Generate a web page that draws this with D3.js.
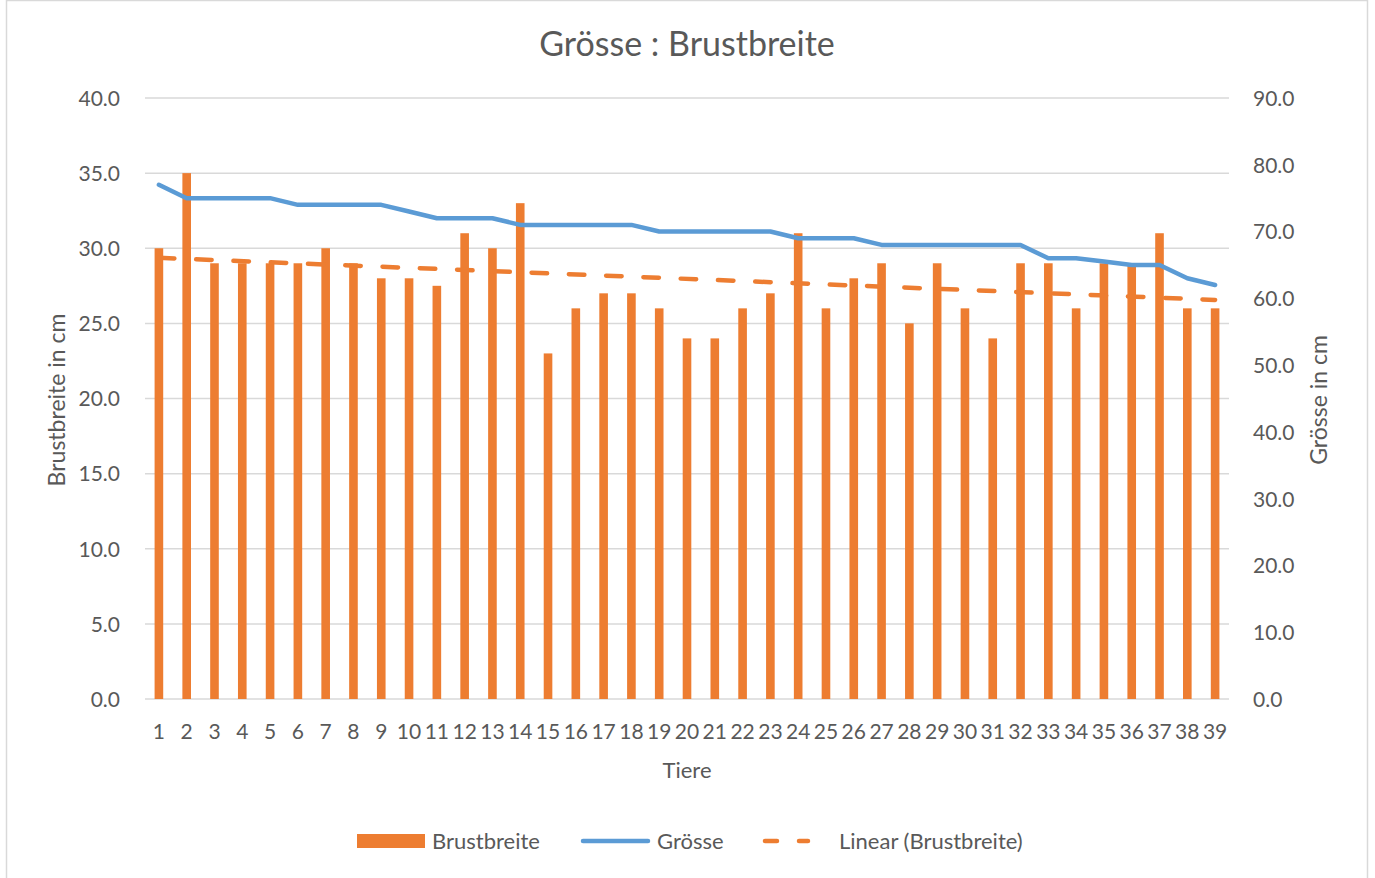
<!DOCTYPE html>
<html>
<head>
<meta charset="utf-8">
<script src="https://cdn.jsdelivr.net/npm/d3@7"></script>
<style>
  body { margin: 0; background: #fff; }
  text { font-family: Lato, "Open Sans", sans-serif; fill: #595959; }
</style>
</head>
<body>
<svg id="chart" width="1375" height="878"></svg>
<script>
var tiere = d3.range(1, 40).map(String);

var brustbreite = [
	30, 35, 29, 29, 29, 29, 30, 29, 28, 28,
	27.5, 31, 30, 33, 23, 26, 27, 27, 26, 24,
	24, 26, 27, 31, 26, 28, 29, 25, 29, 26,
	24, 29, 29, 26, 29, 29, 31, 26, 26
];

var groesse = [
	77, 75, 75, 75, 75, 74, 74, 74, 74, 73,
	72, 72, 72, 71, 71, 71, 71, 71, 70, 70,
	70, 70, 70, 69, 69, 69, 68, 68, 68, 68,
	68, 68, 66, 66, 65.5, 65, 65, 63, 62
];

var leftTicks = d3.range(0, 41, 5);
var rightTicks = d3.range(0, 91, 10);

var orange = "#ED7D31";
var blue = "#5B9BD5";
var grid = "#D9D9D9";

var svg = d3.select("#chart");

// chart frame
svg.append("rect")
	.attr("x", 6.5)
	.attr("y", 0.5)
	.attr("width", 1361)
	.attr("height", 890)
	.attr("fill", "none")
	.attr("stroke", grid)
	.attr("stroke-width", 1.5);

var pLeft = 145, pRight = 1229, pTop = 98, pBottom = 699;

var x = d3.scaleBand()
	.domain(tiere)
	.range([pLeft, pRight])
	.paddingInner(0.69)
	.paddingOuter(0.345);

var yL = d3.scaleLinear().domain([0, 40]).range([pBottom, pTop]);
var yR = d3.scaleLinear().domain([0, 90]).range([pBottom, pTop]);

// gridlines
svg.append("g")
	.selectAll("line")
	.data(leftTicks)
	.join("line")
	.attr("x1", pLeft)
	.attr("x2", pRight)
	.attr("y1", function(d) { return yL(d); })
	.attr("y2", function(d) { return yL(d); })
	.attr("stroke", grid)
	.attr("stroke-width", 1.5);

// left axis
var axL = svg.append("g")
	.attr("transform", "translate(" + (pLeft - 22) + ",0)")
	.call(d3.axisLeft(yL).tickValues(leftTicks).tickFormat(d3.format(".1f")).tickSize(0));
axL.select(".domain").remove();
axL.selectAll("text").attr("font-size", 21).attr("dy", "0.35em").style("font-family", "Lato").attr("fill", "#595959");

// right axis
var axR = svg.append("g")
	.attr("transform", "translate(" + (pRight + 21) + ",0)")
	.call(d3.axisRight(yR).tickValues(rightTicks).tickFormat(d3.format(".1f")).tickSize(0));
axR.select(".domain").remove();
axR.selectAll("text").attr("font-size", 21).attr("dy", "0.35em").style("font-family", "Lato").attr("fill", "#595959");

// bottom axis
var axB = svg.append("g")
	.attr("transform", "translate(0," + (pBottom + 17) + ")")
	.call(d3.axisBottom(x).tickSize(0));
axB.select(".domain").remove();
axB.selectAll("text").attr("font-size", 21).attr("dy", "0.95em").style("font-family", "Lato").attr("fill", "#595959");

// bars
svg.append("g")
	.selectAll("rect")
	.data(brustbreite)
	.join("rect")
	.attr("x", function(d, i) { return x(tiere[i]); })
	.attr("width", x.bandwidth())
	.attr("y", function(d) { return yL(d); })
	.attr("height", function(d) { return yL(0) - yL(d); })
	.attr("fill", orange);

// linear trend of Brustbreite (least squares, like the spreadsheet does)
var n = brustbreite.length;
var mx = d3.mean(brustbreite, function(d, i) { return i + 1; });
var my = d3.mean(brustbreite);
var sxy = d3.sum(brustbreite, function(d, i) { return (i + 1 - mx) * (d - my); });
var sxx = d3.sum(brustbreite, function(d, i) { return (i + 1 - mx) * (i + 1 - mx); });
var slope = sxy / sxx;
var icpt = my - slope * mx;

var cx = function(i) { return x(tiere[i]) + x.bandwidth() / 2; };

svg.append("line")
	.attr("x1", cx(0))
	.attr("x2", cx(n - 1))
	.attr("y1", yL(icpt + slope * 1))
	.attr("y2", yL(icpt + slope * n))
	.attr("stroke", orange)
	.attr("stroke-width", 4.5)
	.attr("stroke-linecap", "round")
	.attr("stroke-dasharray", "15.5,21.8");

// Groesse line
svg.append("path")
	.datum(groesse)
	.attr("fill", "none")
	.attr("stroke", blue)
	.attr("stroke-width", 4.5)
	.attr("stroke-linejoin", "round")
	.attr("stroke-linecap", "round")
	.attr("d", d3.line()
		.x(function(d, i) { return cx(i); })
		.y(function(d) { return yR(d); }));

// titles
svg.append("text")
	.attr("x", 687)
	.attr("y", 56)
	.attr("text-anchor", "middle")
	.attr("font-size", 34)
	.text("Grösse : Brustbreite");

svg.append("text")
	.attr("x", 687)
	.attr("y", 778)
	.attr("text-anchor", "middle")
	.attr("font-size", 22)
	.text("Tiere");

svg.append("text")
	.attr("transform", "translate(65,400) rotate(-90)")
	.attr("text-anchor", "middle")
	.attr("font-size", 23)
	.text("Brustbreite in cm");

svg.append("text")
	.attr("transform", "translate(1327,400) rotate(-90)")
	.attr("text-anchor", "middle")
	.attr("font-size", 23)
	.text("Grösse in cm");

// legend
var legend = svg.append("g");
var ly = 841;

legend.append("rect")
	.attr("x", 357).attr("y", ly - 7)
	.attr("width", 68).attr("height", 14)
	.attr("fill", orange);
legend.append("text")
	.attr("x", 432).attr("y", ly).attr("dy", "0.35em")
	.attr("font-size", 22)
	.text("Brustbreite");

legend.append("line")
	.attr("x1", 583).attr("x2", 648)
	.attr("y1", ly).attr("y2", ly)
	.attr("stroke", blue).attr("stroke-width", 4.5)
	.attr("stroke-linecap", "round");
legend.append("text")
	.attr("x", 657).attr("y", ly).attr("dy", "0.35em")
	.attr("font-size", 22)
	.text("Grösse");

legend.append("line")
	.attr("x1", 765).attr("x2", 808)
	.attr("y1", ly).attr("y2", ly)
	.attr("stroke", orange).attr("stroke-width", 4.5)
	.attr("stroke-linecap", "round")
	.attr("stroke-dasharray", "12,22");
legend.append("text")
	.attr("x", 839).attr("y", ly).attr("dy", "0.35em")
	.attr("font-size", 22)
	.text("Linear (Brustbreite)");
</script>
</body>
</html>
